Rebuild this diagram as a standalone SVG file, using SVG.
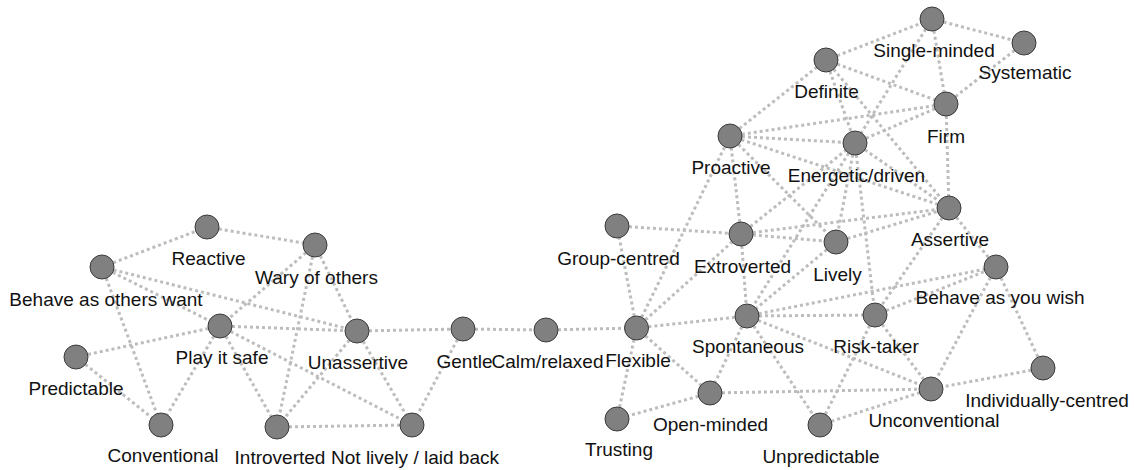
<svg xmlns="http://www.w3.org/2000/svg" width="1134" height="470" viewBox="0 0 1134 470">
<style>
.e line{stroke:#bdbdbd;stroke-width:3;stroke-dasharray:3 3;fill:none}
.n circle{fill:#808080;stroke:#3a3a3a;stroke-width:1}
.n text{font-family:"Liberation Sans",Arial,sans-serif;font-size:19px;fill:#111;text-anchor:middle}
</style>
<rect width="1134" height="470" fill="#fff"/>
<g id="connectors" class="e">
<line x1="102" y1="267" x2="207" y2="227"/>
<line x1="207" y1="227" x2="315" y2="245"/>
<line x1="102" y1="267" x2="220" y2="326"/>
<line x1="102" y1="267" x2="357" y2="331"/>
<line x1="102" y1="267" x2="161" y2="425"/>
<line x1="315" y1="245" x2="220" y2="326"/>
<line x1="315" y1="245" x2="277" y2="427"/>
<line x1="315" y1="245" x2="357" y2="331"/>
<line x1="220" y1="326" x2="357" y2="331"/>
<line x1="220" y1="326" x2="76" y2="357"/>
<line x1="220" y1="326" x2="161" y2="425"/>
<line x1="220" y1="326" x2="277" y2="427"/>
<line x1="220" y1="326" x2="412" y2="425"/>
<line x1="76" y1="357" x2="161" y2="425"/>
<line x1="357" y1="331" x2="277" y2="427"/>
<line x1="357" y1="331" x2="412" y2="425"/>
<line x1="357" y1="331" x2="463" y2="329"/>
<line x1="277" y1="427" x2="412" y2="425"/>
<line x1="463" y1="329" x2="412" y2="425"/>
<line x1="463" y1="329" x2="546" y2="330"/>
<line x1="546" y1="330" x2="636.5" y2="328"/>
<line x1="636.5" y1="328" x2="617" y2="226"/>
<line x1="636.5" y1="328" x2="741" y2="234"/>
<line x1="636.5" y1="328" x2="730" y2="136"/>
<line x1="636.5" y1="328" x2="747" y2="316"/>
<line x1="636.5" y1="328" x2="710" y2="393"/>
<line x1="636.5" y1="328" x2="617" y2="419"/>
<line x1="617" y1="226" x2="741" y2="234"/>
<line x1="741" y1="234" x2="836" y2="242"/>
<line x1="741" y1="234" x2="949" y2="208"/>
<line x1="741" y1="234" x2="747" y2="316"/>
<line x1="741" y1="234" x2="855" y2="143"/>
<line x1="741" y1="234" x2="730" y2="136"/>
<line x1="730" y1="136" x2="826" y2="60"/>
<line x1="730" y1="136" x2="946" y2="104"/>
<line x1="730" y1="136" x2="855" y2="143"/>
<line x1="730" y1="136" x2="949" y2="208"/>
<line x1="730" y1="136" x2="836" y2="242"/>
<line x1="826" y1="60" x2="932" y2="19"/>
<line x1="826" y1="60" x2="946" y2="104"/>
<line x1="826" y1="60" x2="855" y2="143"/>
<line x1="826" y1="60" x2="949" y2="208"/>
<line x1="932" y1="19" x2="1024" y2="43"/>
<line x1="932" y1="19" x2="946" y2="104"/>
<line x1="932" y1="19" x2="855" y2="143"/>
<line x1="1024" y1="43" x2="946" y2="104"/>
<line x1="946" y1="104" x2="855" y2="143"/>
<line x1="946" y1="104" x2="949" y2="208"/>
<line x1="855" y1="143" x2="949" y2="208"/>
<line x1="855" y1="143" x2="836" y2="242"/>
<line x1="855" y1="143" x2="875" y2="315"/>
<line x1="855" y1="143" x2="747" y2="316"/>
<line x1="836" y1="242" x2="949" y2="208"/>
<line x1="836" y1="242" x2="747" y2="316"/>
<line x1="949" y1="208" x2="875" y2="315"/>
<line x1="949" y1="208" x2="996" y2="267"/>
<line x1="747" y1="316" x2="875" y2="315"/>
<line x1="747" y1="316" x2="996" y2="267"/>
<line x1="747" y1="316" x2="931" y2="389"/>
<line x1="747" y1="316" x2="820" y2="425"/>
<line x1="747" y1="316" x2="710" y2="393"/>
<line x1="875" y1="315" x2="996" y2="267"/>
<line x1="875" y1="315" x2="931" y2="389"/>
<line x1="875" y1="315" x2="820" y2="425"/>
<line x1="996" y1="267" x2="1043" y2="368"/>
<line x1="996" y1="267" x2="931" y2="389"/>
<line x1="1043" y1="368" x2="931" y2="389"/>
<line x1="710" y1="393" x2="931" y2="389"/>
<line x1="710" y1="393" x2="617" y2="419"/>
<line x1="820" y1="425" x2="931" y2="389"/>
</g>
<g id="n-reactive" class="n"><circle cx="207" cy="227" r="12"/><text x="208.5" y="265">Reactive</text></g>
<g id="n-wary" class="n"><circle cx="315" cy="245" r="12"/><text x="316.5" y="284">Wary of others</text></g>
<g id="n-behave-others" class="n"><circle cx="102" cy="267" r="12"/><text x="106" y="306">Behave as others want</text></g>
<g id="n-play-safe" class="n"><circle cx="220" cy="326" r="12"/><text x="222" y="364">Play it safe</text></g>
<g id="n-predictable" class="n"><circle cx="76" cy="357" r="12"/><text x="76" y="395">Predictable</text></g>
<g id="n-unassertive" class="n"><circle cx="357" cy="331" r="12"/><text x="358" y="369">Unassertive</text></g>
<g id="n-gentle" class="n"><circle cx="463" cy="329" r="12"/><text x="464.5" y="368">Gentle</text></g>
<g id="n-calm" class="n"><circle cx="546" cy="330" r="12"/><text x="547.5" y="368">Calm/relaxed</text></g>
<g id="n-conventional" class="n"><circle cx="161" cy="425" r="12"/><text x="163" y="462">Conventional</text></g>
<g id="n-introverted" class="n"><circle cx="277" cy="427" r="12"/><text x="280" y="464">Introverted</text></g>
<g id="n-not-lively" class="n"><circle cx="412" cy="425" r="12"/><text x="415" y="464">Not lively / laid back</text></g>
<g id="n-flexible" class="n"><circle cx="636.5" cy="328" r="12"/><text x="638" y="367">Flexible</text></g>
<g id="n-group" class="n"><circle cx="617" cy="226" r="12"/><text x="618.5" y="265">Group-centred</text></g>
<g id="n-extroverted" class="n"><circle cx="741" cy="234" r="12"/><text x="742.5" y="273">Extroverted</text></g>
<g id="n-lively" class="n"><circle cx="836" cy="242" r="12"/><text x="837.5" y="281">Lively</text></g>
<g id="n-assertive" class="n"><circle cx="949" cy="208" r="12"/><text x="950" y="246">Assertive</text></g>
<g id="n-behave-wish" class="n"><circle cx="996" cy="267" r="12"/><text x="1000" y="304">Behave as you wish</text></g>
<g id="n-spontaneous" class="n"><circle cx="747" cy="316" r="12"/><text x="748" y="353">Spontaneous</text></g>
<g id="n-risk" class="n"><circle cx="875" cy="315" r="12"/><text x="876" y="353">Risk-taker</text></g>
<g id="n-individually" class="n"><circle cx="1043" cy="368" r="12"/><text x="1047" y="407">Individually-centred</text></g>
<g id="n-unconventional" class="n"><circle cx="931" cy="389" r="12"/><text x="934" y="427">Unconventional</text></g>
<g id="n-open" class="n"><circle cx="710" cy="393" r="12"/><text x="710.5" y="431">Open-minded</text></g>
<g id="n-trusting" class="n"><circle cx="617" cy="419" r="12"/><text x="619" y="456">Trusting</text></g>
<g id="n-unpredictable" class="n"><circle cx="820" cy="425" r="12"/><text x="821" y="463">Unpredictable</text></g>
<g id="n-single" class="n"><circle cx="932" cy="19" r="12"/><text x="934" y="57">Single-minded</text></g>
<g id="n-systematic" class="n"><circle cx="1024" cy="43" r="12"/><text x="1025" y="79">Systematic</text></g>
<g id="n-definite" class="n"><circle cx="826" cy="60" r="12"/><text x="826.5" y="98">Definite</text></g>
<g id="n-firm" class="n"><circle cx="946" cy="104" r="12"/><text x="946" y="143">Firm</text></g>
<g id="n-proactive" class="n"><circle cx="730" cy="136" r="12"/><text x="731" y="174">Proactive</text></g>
<g id="n-energetic" class="n"><circle cx="855" cy="143" r="12"/><text x="856.5" y="182">Energetic/driven</text></g>
</svg>
